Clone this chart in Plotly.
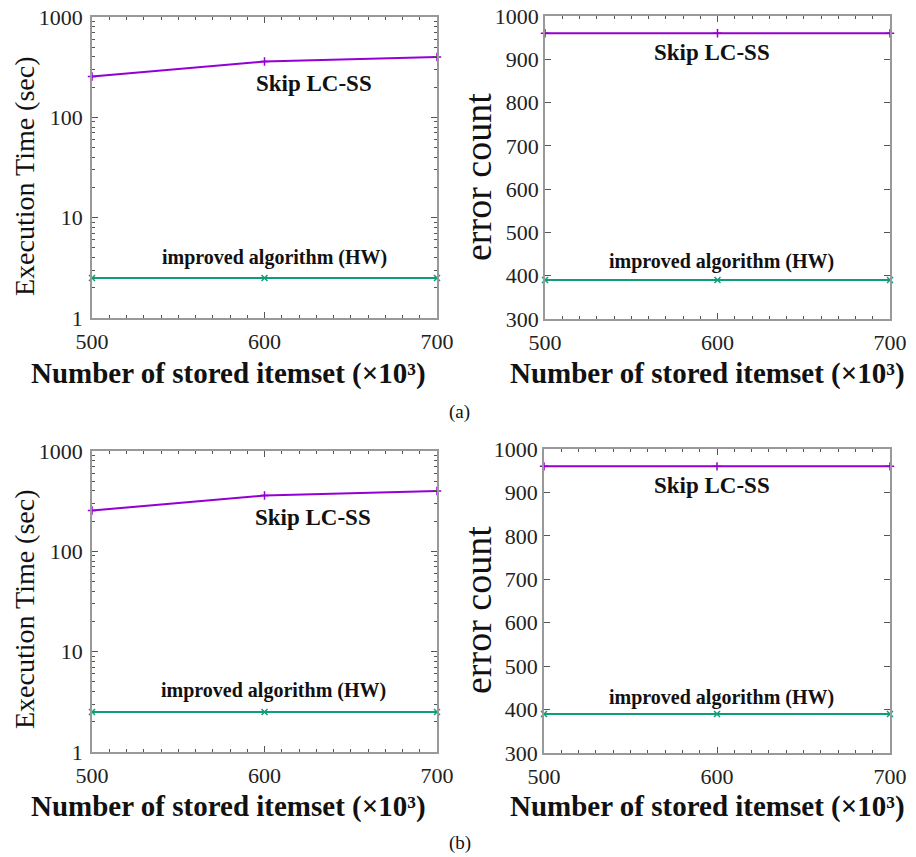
import plotly.graph_objects as go

W, H = 916, 857

# ---- data ----
itemsets = [500, 600, 700]  # x 10^3
time_skip_a = [255, 360, 400]
time_hw_a = [2.5, 2.5, 2.5]
err_skip_a = [960, 960, 960]
err_hw_a = [390, 390, 390]
time_skip_b = [255, 360, 400]
time_hw_b = [2.5, 2.5, 2.5]
err_skip_b = [960, 960, 960]
err_hw_b = [390, 390, 390]
x_ticks = [500, 600, 700]
log_ticks = [1, 10, 100, 1000]
lin_ticks = [300, 400, 500, 600, 700, 800, 900, 1000]

PURPLE = "#9400D3"
GREEN = "#0F9D78"
SERIF = "Liberation Serif"


def px(x, y):
    return x / W, 1 - y / H


fig = go.Figure()

panels = [
    ("x", "y", (92, 437), (17, 318), True, time_skip_a, time_hw_a),
    ("x2", "y2", (545, 890), (16, 319), False, err_skip_a, err_hw_a),
    ("x3", "y3", (92, 437), (451, 752), True, time_skip_b, time_hw_b),
    ("x4", "y4", (544, 890), (449, 753), False, err_skip_b, err_hw_b),
]

TICKFONT = dict(family=SERIF, size=22, color="#222")

for xa, ya, xd, yd, islog, skip, hw in panels:
    fig.add_trace(go.Scatter(x=itemsets, y=skip, xaxis=xa, yaxis=ya, mode="lines+markers",
                             line=dict(color=PURPLE, width=2),
                             marker=dict(symbol="cross-thin", size=6, line=dict(color=PURPLE, width=1.5)),
                             showlegend=False, cliponaxis=False))
    fig.add_trace(go.Scatter(x=itemsets, y=hw, xaxis=xa, yaxis=ya, mode="lines+markers",
                             line=dict(color=GREEN, width=2),
                             marker=dict(symbol="x-thin", size=6, line=dict(color=GREEN, width=1.5)),
                             showlegend=False, cliponaxis=False))
    xkey = "xaxis" if xa == "x" else "xaxis" + xa[1:]
    ykey = "yaxis" if ya == "y" else "yaxis" + ya[1:]
    x0, x1 = xd
    y0, y1 = yd
    fig.layout[xkey] = dict(
        domain=[x0 / W, x1 / W], anchor=ya, range=[500, 700], automargin=False,
        tickvals=x_ticks, ticktext=[str(v) for v in x_ticks],
        ticks="inside", ticklen=6, tickcolor="#555", ticklabelstandoff=3,
        minor=dict(dtick=10, ticks="inside", ticklen=3, tickcolor="#555"),
        showline=True, linecolor="#999", linewidth=1.5, mirror="allticks",
        showgrid=False, zeroline=False,
        tickfont=TICKFONT,
    )
    if islog:
        fig.layout[ykey] = dict(
            domain=[1 - y1 / H, 1 - y0 / H], anchor=xa, type="log", range=[0, 3], automargin=False,
            tickvals=log_ticks, ticktext=[str(v) for v in log_ticks],
            ticks="inside", ticklen=6, tickcolor="#555", ticklabelstandoff=3,
            minor=dict(ticks="inside", ticklen=3, tickcolor="#555",
                       tickvals=[2, 3, 4, 5, 6, 7, 8, 9, 20, 30, 40, 50, 60, 70, 80, 90,
                                 200, 300, 400, 500, 600, 700, 800, 900]),
            showline=True, linecolor="#999", linewidth=1.5, mirror="allticks",
            showgrid=False, zeroline=False,
            tickfont=TICKFONT,
        )
    else:
        fig.layout[ykey] = dict(
            domain=[1 - y1 / H, 1 - y0 / H], anchor=xa, range=[300, 1000], automargin=False,
            tickvals=lin_ticks, ticktext=[str(v) for v in lin_ticks],
            ticks="inside", ticklen=6, tickcolor="#555",
            showline=True, linecolor="#999", linewidth=1.5, mirror="allticks",
            showgrid=False, zeroline=False,
            tickfont=TICKFONT,
        )

annots = []


def ann(text, x, y, size, bold=False, angle=0):
    ax, ay = px(x, y)
    t = f"<b>{text}</b>" if bold else text
    annots.append(dict(text=t, x=ax, y=ay, xref="paper", yref="paper", showarrow=False,
                       xanchor="center", yanchor="middle", textangle=angle,
                       font=dict(family=SERIF, size=size, color="#111")))


XTITLE = "Number of stored itemset (×10³)"
for dy in (0, 433):
    ann(XTITLE, 228, 373 + dy, 29, bold=True)
    ann(XTITLE, 707, 373 + dy, 29, bold=True)
    ann("Execution Time (sec)", 24, 176 + dy, 28, angle=-90)
    ann("error count", 478, 177 + dy, 38, angle=-90)

ann("Skip LC-SS", 314, 83, 23, bold=True)
ann("improved algorithm (HW)", 274, 257, 20, bold=True)
ann("Skip LC-SS", 712, 52, 23, bold=True)
ann("improved algorithm (HW)", 721, 262, 20, bold=True)
ann("Skip LC-SS", 313, 517, 23, bold=True)
ann("improved algorithm (HW)", 273, 690, 20, bold=True)
ann("Skip LC-SS", 712, 485, 23, bold=True)
ann("improved algorithm (HW)", 721, 697, 20, bold=True)
ann("(a)", 460, 412, 19)
ann("(b)", 460, 843, 19)

fig.update_layout(
    width=W, height=H, margin=dict(l=0, r=0, t=0, b=0, autoexpand=False),
    paper_bgcolor="white", plot_bgcolor="white",
    font=dict(family=SERIF, size=21, color="#222"),
    annotations=annots, showlegend=False,
)

fig.write_html("out.html", config={"displayModeBar": False},
               post_script="document.body.style.margin='0';document.body.style.overflow='hidden';")
